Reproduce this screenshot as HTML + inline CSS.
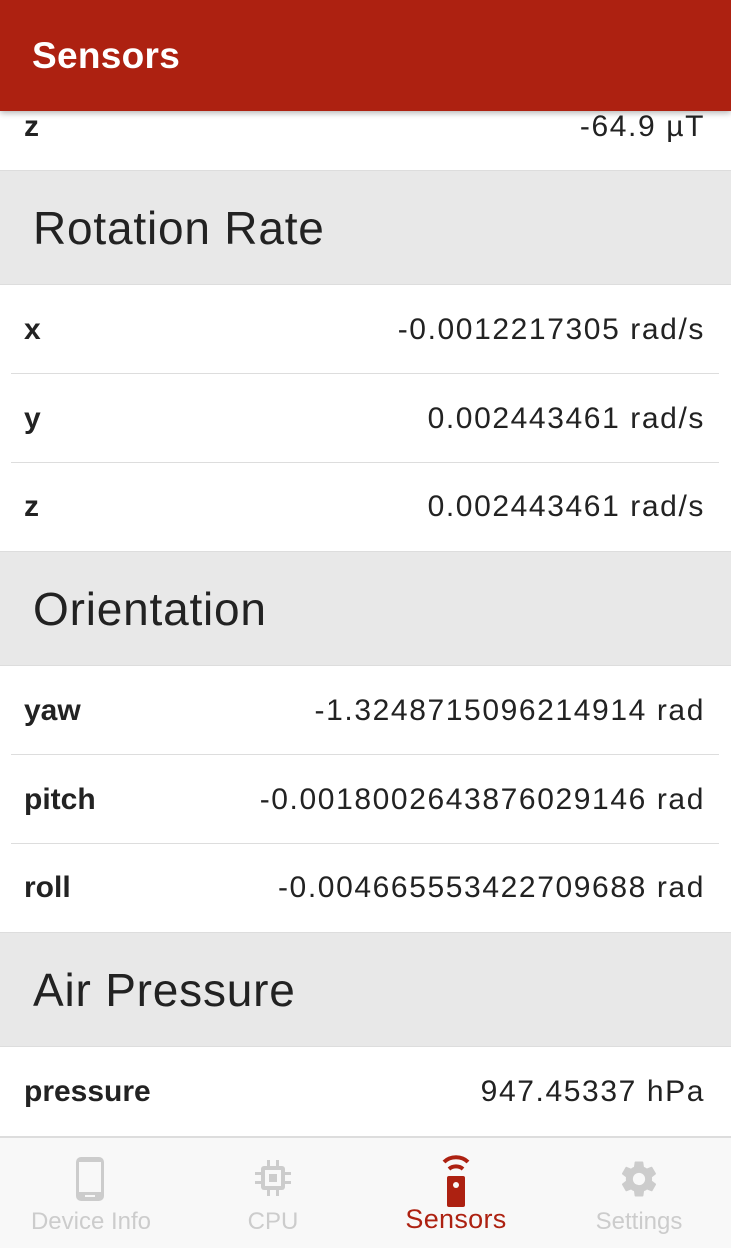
<!DOCTYPE html>
<html><head><meta charset="utf-8"><style>
*{margin:0;padding:0;box-sizing:border-box}
body{width:731px;height:1248px;overflow:hidden;background:#fff;font-family:"Liberation Sans",sans-serif;color:#222;position:relative}
.hdr{position:absolute;left:0;top:0;width:731px;height:111px;background:#ad2111;box-shadow:0 2px 6px rgba(0,0,0,.3);z-index:2}
.hdr span{position:absolute;left:32px;top:35px;font-size:37px;color:#fff;font-weight:bold;letter-spacing:0.3px}
.row{position:absolute;left:0;width:731px;height:89px}
.row .l{position:absolute;left:24px;top:50%;transform:translateY(-50%);font-size:30px;font-weight:bold;color:#222}
.row .v{position:absolute;right:26px;top:50%;transform:translateY(-50%);font-size:30px;color:#222;letter-spacing:1.6px;white-space:nowrap}
.row.sep::after{content:"";position:absolute;left:11px;right:12px;bottom:0;height:1px;background:#ddd}
.sec{position:absolute;left:0;width:731px;height:115px;background:#e8e8e8;border-top:1px solid #ddd;border-bottom:1px solid #ddd}
.sec span{position:absolute;left:33px;top:50%;transform:translateY(-50%);font-size:46px;color:#222;letter-spacing:0.8px}
.nav{position:absolute;left:0;top:1136px;width:731px;height:112px;background:#f8f8f8;border-top:2px solid #ddd}
.it{position:absolute;top:0;width:182px;height:112px;text-align:center}
.it .t{position:absolute;left:0;width:100%;top:70px;font-size:24px;color:#ccc}
</style></head><body>
<div class="hdr"><span>Sensors</span></div>
<div class="row" style="top:83px;height:88px"><span class="l">z</span><span class="v">-64.9 µT</span></div>
<div class="sec" style="top:170px"><span>Rotation Rate</span></div>
<div class="row sep" style="top:285px"><span class="l">x</span><span class="v">-0.0012217305 rad/s</span></div>
<div class="row sep" style="top:374px"><span class="l">y</span><span class="v">0.002443461 rad/s</span></div>
<div class="row" style="top:462px"><span class="l">z</span><span class="v">0.002443461 rad/s</span></div>
<div class="sec" style="top:551px"><span>Orientation</span></div>
<div class="row sep" style="top:666px"><span class="l">yaw</span><span class="v">-1.3248715096214914 rad</span></div>
<div class="row sep" style="top:755px"><span class="l">pitch</span><span class="v">-0.0018002643876029146 rad</span></div>
<div class="row" style="top:843px"><span class="l">roll</span><span class="v">-0.004665553422709688 rad</span></div>
<div class="sec" style="top:932px"><span>Air Pressure</span></div>
<div class="row" style="top:1047px"><span class="l">pressure</span><span class="v">947.45337 hPa</span></div>
<div class="nav">
 <div class="it" style="left:0">
  <svg style="position:absolute;left:75px;top:18px" width="30" height="46" viewBox="0 0 30 46"><rect x="1" y="1" width="28" height="44" rx="5" fill="#ccc"/><rect x="4" y="6" width="22" height="30" fill="#f8f8f8"/><rect x="10" y="39" width="10" height="2" fill="#f8f8f8"/></svg>
  <div class="t">Device Info</div></div>
 <div class="it" style="left:182px">
  <svg style="position:absolute;left:71px;top:20px" width="40" height="40" viewBox="0 0 40 40" fill="#ccc"><rect x="8" y="8" width="24" height="24" rx="3"/><rect x="12" y="12" width="16" height="16" fill="#f8f8f8"/><rect x="16" y="16" width="8" height="8"/><rect x="14" y="2" width="3" height="6"/><rect x="23" y="2" width="3" height="6"/><rect x="14" y="32" width="3" height="6"/><rect x="23" y="32" width="3" height="6"/><rect x="2" y="14" width="6" height="3"/><rect x="2" y="23" width="6" height="3"/><rect x="32" y="14" width="6" height="3"/><rect x="32" y="23" width="6" height="3"/></svg>
  <div class="t">CPU</div></div>
 <div class="it" style="left:365px">
  <svg style="position:absolute;left:75px;top:14px" width="32" height="56" viewBox="0 0 32 56"><path d="M4 10 A16 14 0 0 1 28 10" stroke="#ad2111" stroke-width="4" fill="none"/><path d="M9 17 A10 9 0 0 1 23 17" stroke="#ad2111" stroke-width="4" fill="none"/><rect x="7" y="24" width="18" height="31" rx="2" fill="#ad2111"/><circle cx="16" cy="33" r="3" fill="#f8f8f8"/></svg>
  <div class="t" style="color:#ad2111;font-size:27px;top:66px;letter-spacing:0.3px">Sensors</div></div>
 <div class="it" style="left:548px">
  <svg style="position:absolute;left:70px;top:20px" width="42" height="42" viewBox="0 0 24 24"><path fill="#ccc" d="M19.4 13c.04-.3.06-.65.06-1s-.02-.7-.06-1l2.1-1.650c.2-.15.24-.42.12-.64l-2-3.46c-.12-.22-.4-.3-.6-.22l-2.5 1c-.52-.4-1.080-.73-1.7-.98l-.38-2.65A.49.49 0 0 0 14 2h-4c-.25 0-.46.18-.5.42l-.37 2.65c-.62.25-1.18.59-1.7.98l-2.5-1c-.22-.08-.48 0-.6.22l-2 3.46c-.13.22-.07.49.12.64L4.57 11c-.04.32-.07.66-.07 1s.03.68.07 1l-2.1 1.65c-.2.15-.25.42-.13.64l2 3.46c.12.22.39.3.6.22l2.5-1c.52.4 1.08.73 1.7.98l.37 2.65c.05.24.25.42.5.42h4c.25 0 .46-.18.5-.42l.37-2.65c.62-.25 1.18-.58 1.7-.98l2.5 1c.23.08.48 0 .6-.22l2-3.46c.12-.22.07-.49-.12-.64L19.4 13zM12 15.5a3.5 3.5 0 1 1 0-7 3.5 3.5 0 0 1 0 7z"/></svg>
  <div class="t">Settings</div></div>
</div>
</body></html>
